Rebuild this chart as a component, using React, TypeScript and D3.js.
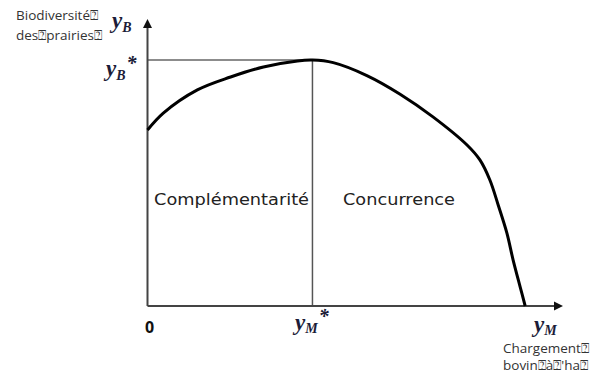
import React from "react";
import * as d3 from "d3";

// Curve: chargement (x, share of axis) vs biodiversité (y, share of axis)
const curveX = [0, 0.038, 0.12, 0.2, 0.279, 0.361, 0.397, 0.447, 0.528, 0.608, 0.687, 0.769, 0.8, 0.824, 0.844, 0.865, 0.88, 0.897, 0.909];
const curveY = [0.613, 0.672, 0.753, 0.798, 0.833, 0.854, 0.857, 0.848, 0.803, 0.738, 0.659, 0.561, 0.509, 0.439, 0.352, 0.254, 0.16, 0.066, 0];
const optimumX = 0.397;
const optimumY = 0.857;
const regionLabels = ["Complémentarité", "Concurrence"];
const yAxisTitle = ["Biodiversité⍰", "des⍰prairies⍰"];
const xAxisTitle = ["Chargement⍰", "bovin⍰à⍰'ha⍰"];

const W = 613;
const H = 374;

export default function App() {
  const x = d3.scaleLinear().domain([0, 1]).range([147.5, 563]);
  const y = d3.scaleLinear().domain([0, 1]).range([306, 19]);
  const pts: [number, number][] = curveX.map((v, i) => [v, curveY[i]]);
  const line = d3
    .line<[number, number]>()
    .x((d) => x(d[0]))
    .y((d) => y(d[1]))
    .curve(d3.curveCatmullRom.alpha(0.5));

  const mathFont = "'Liberation Serif', 'DejaVu Serif', serif";
  const mathColor = "#1c1c38";
  const x0 = x(0);
  const y0 = y(0);

  return (
    <svg
      width={W}
      height={H}
      style={{ position: "absolute", left: 0, top: 0, background: "#fff" }}
    >
      {/* reference lines */}
      <line x1={x0} x2={x(optimumX)} y1={y(optimumY)} y2={y(optimumY)} stroke="#666" strokeWidth={1.5} />
      <line x1={x(optimumX)} x2={x(optimumX)} y1={y(optimumY)} y2={y0} stroke="#555" strokeWidth={1.5} />

      {/* axes */}
      <line x1={x0} x2={x0} y1={y0} y2={y(1) + 7} stroke="#444" strokeWidth={2} />
      <path d={`M${x0},${y(1)} L${x0 - 4.5},${y(1) + 9} L${x0 + 4.5},${y(1) + 9} Z`} fill="#111" />
      <line x1={x0} x2={x(1) - 7} y1={y0} y2={y0} stroke="#444" strokeWidth={2} />
      <path d={`M${x(1)},${y0} L${x(1) - 9},${y0 - 4.5} L${x(1) - 9},${y0 + 4.5} Z`} fill="#111" />

      {/* curve */}
      <path d={line(pts) || ""} fill="none" stroke="#000" strokeWidth={3} />

      {/* region labels */}
      <g fontFamily="'DejaVu Sans', Verdana, sans-serif" fontSize={15} fill="#222">
        <text x={154} y={205} textLength={155} lengthAdjust="spacingAndGlyphs">{regionLabels[0]}</text>
        <text x={343} y={205} textLength={112} lengthAdjust="spacingAndGlyphs">{regionLabels[1]}</text>
      </g>

      {/* math labels */}
      <g fontFamily={mathFont} fontWeight="bold" fontStyle="italic" fill={mathColor}>
        <text x={112} y={28} fontSize={23}>y<tspan fontSize={14} dy={4}>B</tspan></text>
        <text x={106} y={76} fontSize={23}>y<tspan fontSize={14} dy={4}>B</tspan><tspan fontSize={20} dy={-10} dx={1}>*</tspan></text>
        <text x={295} y={330} fontSize={23}>y<tspan fontSize={14} dy={3}>M</tspan><tspan fontSize={20} dy={-10} dx={1}>*</tspan></text>
        <text x={534} y={332} fontSize={23}>y<tspan fontSize={14} dy={3}>M</tspan></text>
      </g>
      <text x={145} y={333} fontFamily="'Open Sans', sans-serif" fontWeight="bold" fontSize={16} fill="#111">0</text>

      {/* axis titles */}
      <g fontFamily="'Open Sans', 'Liberation Sans', sans-serif" fontSize={13.5} fill="#333">
        <text x={16} y={20}>{yAxisTitle[0]}</text>
        <text x={16} y={40}>{yAxisTitle[1]}</text>
        <text x={503} y={353}>{xAxisTitle[0]}</text>
        <text x={503} y={370}>{xAxisTitle[1]}</text>
      </g>
    </svg>
  );
}
